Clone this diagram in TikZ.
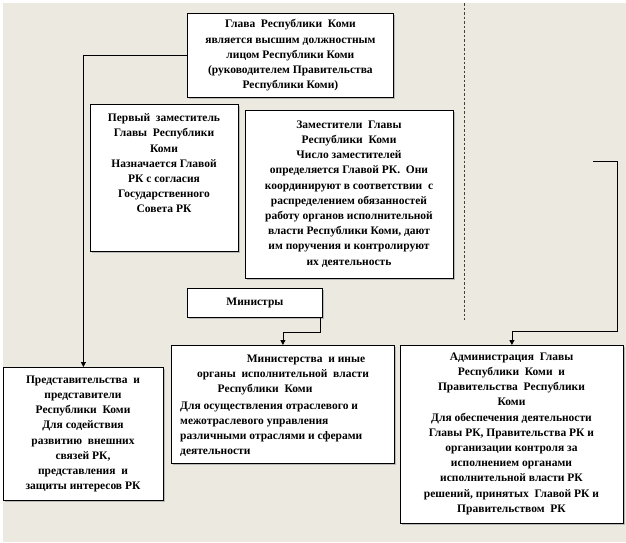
\documentclass[tikz,border=0pt]{standalone}
\usepackage{fontspec}
\setmainfont{Liberation Serif}
\usetikzlibrary{arrows.meta,shadows}
\begin{document}
\begin{tikzpicture}[x=1pt,y=-1pt,
  box/.style={draw=black, line width=0.8pt, fill=white, inner sep=0pt, anchor=north west,
    drop shadow={shadow xshift=1.2pt, shadow yshift=-1.2pt, fill=gray!55, opacity=1}},
  txt/.style={font=\fontsize{11.5}{15.2}\selectfont\bfseries, align=center, inner sep=0pt, anchor=north},
  conn/.style={line width=0.8pt, -{Triangle[length=5pt,width=5pt]}},
  sep/.style={draw=gray!50!black, line width=1pt, dash pattern=on 2.5pt off 2pt}]
\useasboundingbox (0,0) rectangle (626,542);
\fill[white] (0,0) rectangle (626,542);
\fill[fill={rgb,255:red,236;green,233;blue,224}] (3,3) rectangle (626,542);

% boxes
\node[box, minimum width=206pt, minimum height=84pt] (head) at (187,13) {};
\node[box, minimum width=148pt, minimum height=147pt] (fd) at (90,104) {};
\node[box, minimum width=208pt, minimum height=168pt] (dep) at (245,110) {};
\node[box, minimum width=135pt, minimum height=29pt] (min) at (187,288) {};
\node[box, minimum width=223pt, minimum height=118pt] (mins) at (171,345) {};
\node[box, minimum width=160pt, minimum height=133pt] (pred) at (3,367) {};
\node[box, minimum width=223pt, minimum height=178pt] (adm) at (400,345) {};

% texts
\node[txt, anchor=center] (headt) at (head.center) {Глава\ \ Республики\ \ Коми\\является высшим должностным\\лицом Республики Коми\\(руководителем Правительства\\Республики Коми)};
\node[txt] (fdt) at (164,113.5) {Первый\ \ заместитель\\Главы\ \ Республики\\Коми\\Назначается Главой\\РК с согласия\\Государственного\\Совета РК};
\node[txt] (dept) at (349,120.5) {Заместители\ \ Главы\\Республики\ \ Коми\\Число заместителей\\определяется Главой РК.\ \ Они\\координируют в соответствии\ \ с\\распределением обязанностей\\работу органов исполнительной\\власти Республики Коми, дают\\им поручения и контролируют\\их деятельность};
\node[txt, anchor=center] (mint) at (min.center) {Министры};
\node[txt] (minst) at (283,354.5) {\hspace*{46pt}Министерства\ \ и иные\\органы\ \ исполнительной\ \ власти\\Республики\ \ Коми\hspace*{36pt}};
\node[txt, align=left, anchor=north west] (minsb) at (180,401.5) {Для осуществления отраслевого и\\межотраслевого управления\\различными отраслями и сферами\\деятельности};
\node[txt] (predt) at (83,375.5) {Представительства\ \ и\\представители\\Республики\ \ Коми\\Для содействия\\развитию\ \ внешних\\связей РК,\\представления\ \ и\\защиты интересов РК};
\node[txt] (admt) at (511.5,352.5) {Администрация\ \ Главы\\Республики\ \ Коми\ \ и\\Правительства\ \ Республики\\Коми\\Для обеспечения деятельности\\Главы РК, Правительства РК и\\организации контроля за\\исполнением органами\\исполнительной власти РК\\решений, принятых\ \ Главой РК и\\Правительством\ \ РК};

% separator
\coordinate (septop) at (464,3);
\coordinate (sepbot) at (464,320);
\draw[sep] (septop) -- (sepbot);

% connectors
\draw[conn] (head.west) -| (pred.north);
\draw[conn] ([xshift=-2pt]min.south east) -- ++(0,15) -| (mins.north);
\coordinate (rs) at (593,161);
\coordinate (rc1) at (617,161);
\coordinate (rc2) at (617,331);
\draw[conn] (rs) -- (rc1) -- (rc2) -| (adm.north);
\end{tikzpicture}
\end{document}
